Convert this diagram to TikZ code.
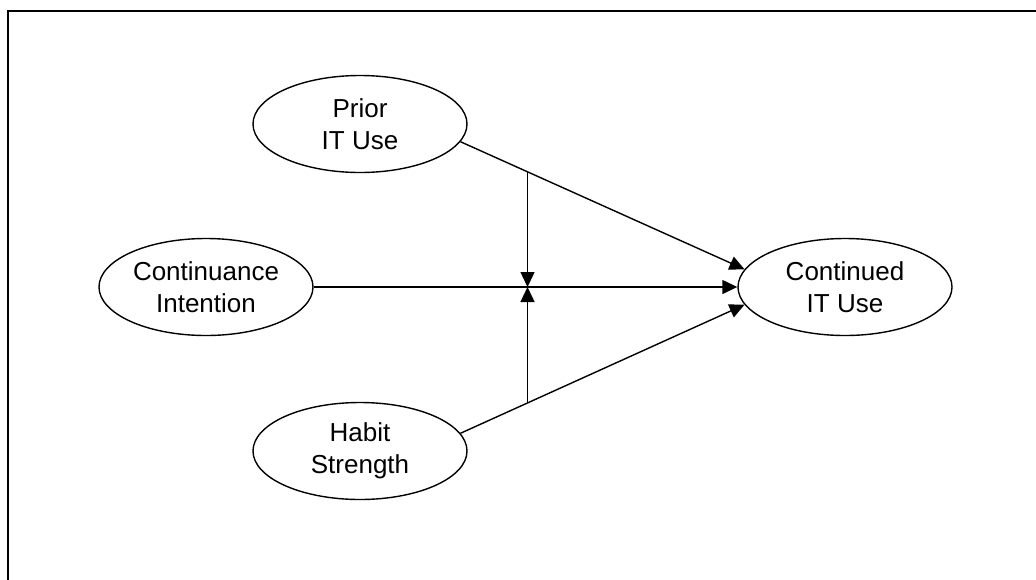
\documentclass[tikz,border=0pt]{standalone}
\usepackage{fontspec}
\setmainfont{Liberation Sans}
\usetikzlibrary{arrows.meta,shapes.geometric}

\begin{document}
\begin{tikzpicture}[x=1pt, y=-1pt,
    construct/.style={draw, ellipse, line width=1.4pt, minimum width=214pt, minimum height=97pt,
                      inner sep=0pt, align=center, font=\fontsize{26}{32}\selectfont},
    link/.style={line width=1.4pt, -{Triangle[length=15pt,width=14pt]}}]
        \clip (0,0) rectangle (1036,579);
%        frame, only its left and top edges show
        \draw [line width=2.4pt] (8,620) -- (8,11) -- (1080,11);

        \node [construct] (prior) at (360,124) {Prior\\IT Use};
        \node [construct] (ci)    at (206,287) {Continuance\\Intention};
        \node [construct] (habit) at (360,451) {Habit\\Strength};
        \node [construct] (cont)  at (845,287) {Continued\\IT Use};

        \draw [link] (prior.-10) -- coordinate [pos=0.236] (top) (cont.170);
        \draw [link] (ci.east) -- (cont.west);
        \draw [link] (habit.10) -- coordinate [pos=0.236] (bot) (cont.190);

        \draw [link] (top) -- (top |- ci.east);
        \draw [link] (bot) -- (bot |- ci.east);
\end{tikzpicture}
\end{document}
